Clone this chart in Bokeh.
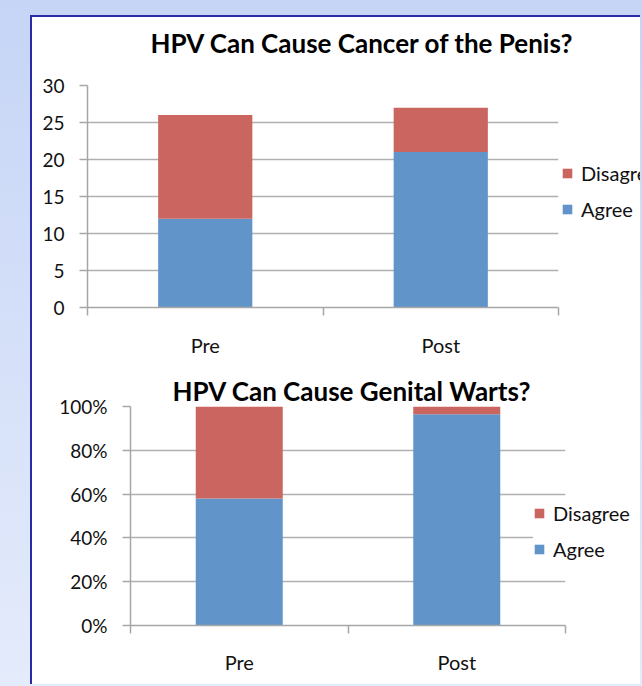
from bokeh.plotting import figure
from bokeh.models import Range1d, FixedTicker, Legend, LegendItem, NumeralTickFormatter, Title
from bokeh.embed import file_html
from bokeh.resources import INLINE

# ---- data ----
categories = ["Pre", "Post"]
series_names = ["Agree", "Disagree"]

penis_title = "HPV Can Cause Cancer of the Penis?"
penis_agree = [12, 21]
penis_disagree = [14, 6]
penis_ticks = [0, 5, 10, 15, 20, 25, 30]

warts_title = "HPV Can Cause Genital Warts?"
warts_agree = [0.58, 0.965]
warts_disagree = [0.42, 0.035]
warts_ticks = [0, 0.2, 0.4, 0.6, 0.8, 1.0]

BLUE = "#6195c9"
RED = "#cb655f"
GRID = "#b0b0b0"
AXIS = "#a6a6a6"
FONT = "Lato"


def make_chart(title, agree, disagree, ticks, ymax, frame, borders,
               title_offset, title_gap, label_standoff, legend_xy, legend_spacing, fmt=None):
    xs = [i + 0.5 for i in range(len(categories))]
    tops = [a + d for a, d in zip(agree, disagree)]
    p = figure(frame_width=frame[0], frame_height=frame[1],
               x_range=Range1d(0, len(categories)), y_range=Range1d(0, ymax),
               output_backend="svg", toolbar_location=None, tools="")
    (p.min_border_left, p.min_border_right,
     p.min_border_top, p.min_border_bottom) = borders
    p.outline_line_color = None
    p.background_fill_color = "white"
    p.border_fill_color = "white"

    r_agree = p.vbar(x=xs, bottom=0, top=agree, width=0.4,
                     fill_color=BLUE, line_color=None)
    r_dis = p.vbar(x=xs, bottom=agree, top=tops, width=0.4,
                   fill_color=RED, line_color=None)

    p.xgrid.visible = False
    p.ygrid.grid_line_color = GRID
    p.ygrid.grid_line_width = 1.5
    p.ygrid.ticker = FixedTicker(ticks=ticks)

    xa = p.xaxis[0]
    xa.ticker = FixedTicker(ticks=xs, minor_ticks=list(range(len(categories) + 1)))
    xa.major_label_overrides = {x: c for x, c in zip(xs, categories)}
    xa.major_tick_line_color = None
    xa.major_tick_out = 0
    xa.major_tick_in = 0
    xa.minor_tick_line_color = AXIS
    xa.minor_tick_line_width = 1.5
    xa.minor_tick_out = 8
    xa.minor_tick_in = 0
    xa.axis_line_color = AXIS
    xa.axis_line_width = 1.5
    xa.major_label_text_font = FONT
    xa.major_label_text_font_size = "20px"
    xa.major_label_text_color = "#111111"
    xa.major_label_standoff = label_standoff

    ya = p.yaxis[0]
    ya.ticker = FixedTicker(ticks=ticks)
    if fmt is not None:
        ya.formatter = NumeralTickFormatter(format=fmt)
    ya.major_tick_out = 8
    ya.major_tick_in = 0
    ya.major_tick_line_color = AXIS
    ya.major_tick_line_width = 1.5
    ya.minor_tick_out = 0
    ya.minor_tick_in = 0
    ya.axis_line_color = AXIS
    ya.axis_line_width = 1.5
    ya.major_label_text_font = FONT
    ya.major_label_text_font_size = "19px"
    ya.major_label_text_color = "#111111"
    ya.major_label_text_line_height = 1.7
    ya.major_label_standoff = 15

    if title_gap > 0:
        # blank spacer panel between the frame and the title
        p.add_layout(Title(text=" ", text_font_size="1px", standoff=title_gap), "above")
    p.add_layout(Title(text=title, align="left", offset=title_offset,
                       standoff=0, text_font=FONT,
                       text_font_style="bold", text_font_size="26px",
                       text_color="black"), "above")

    legend = Legend(items=[LegendItem(label=series_names[1], renderers=[r_dis]),
                           LegendItem(label=series_names[0], renderers=[r_agree])],
                    location=legend_xy, orientation="vertical",
                    glyph_width=12, glyph_height=12, label_standoff=8,
                    label_text_font=FONT, label_text_font_size="20px",
                    label_text_color="#111111", label_height=24,
                    spacing=legend_spacing, padding=6, margin=0,
                    border_line_color=None, background_fill_color="white",
                    background_fill_alpha=1.0)
    p.add_layout(legend, "right")
    return p


p1 = make_chart(penis_title, penis_agree, penis_disagree, penis_ticks, 30,
                (471, 222), (55, 84, 68, 63), 63, 24, 17, (3, 86), 12)
p2 = make_chart(warts_title, warts_agree, warts_disagree, warts_ticks, 1.0,
                (435, 219), (98, 77, 36, 61), 42, 0, 16, (-32, 64), 12, fmt="0%")

html = file_html([p1, p2], INLINE, title="HPV charts")
css = ("<style>"
       "html{background:linear-gradient(to bottom,#c6d5f6,#e4ebfb);height:100%;overflow:hidden;}"
       "body{margin:0;position:absolute;left:30px;top:15px;width:610px;height:669px;"
       "border-left:2px solid #2a2aa6;border-top:2px solid #2a2aa6;"
       "background:white;overflow:hidden;}"
       "body > div{display:block;}"
       "</style>")
html = html.replace("</head>", css + "</head>", 1)
open("out.html", "w").write(html)
